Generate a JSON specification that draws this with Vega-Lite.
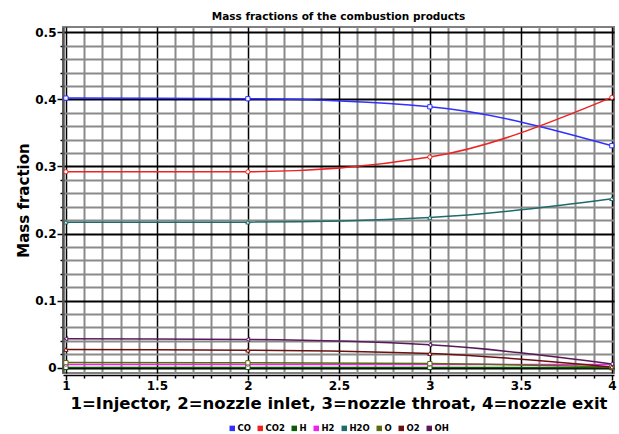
{
  "$schema": "https://vega.github.io/schema/vega-lite/v6.json",
  "autosize": "none",
  "width": 551,
  "height": 346,
  "padding": {"left": 63, "top": 27, "right": 5, "bottom": 61},
  "background": "white",
  "title": {
    "text": "Mass fractions of the combustion products",
    "font": "DejaVu Sans",
    "fontSize": 10.5,
    "fontWeight": "bold",
    "color": "black",
    "anchor": "middle",
    "offset": 4
  },
  "config": {
    "view": {"stroke": "#808080", "strokeWidth": 2},
    "font": "DejaVu Sans"
  },
  "data": {
    "values": [
      {"x": 1, "species": "CO", "value": 0.402},
      {"x": 2, "species": "CO", "value": 0.401},
      {"x": 3, "species": "CO", "value": 0.389},
      {"x": 4, "species": "CO", "value": 0.331},
      {"x": 1, "species": "CO2", "value": 0.292},
      {"x": 2, "species": "CO2", "value": 0.292},
      {"x": 3, "species": "CO2", "value": 0.314},
      {"x": 4, "species": "CO2", "value": 0.403},
      {"x": 1, "species": "H", "value": 0.0003},
      {"x": 2, "species": "H", "value": 0.0003},
      {"x": 3, "species": "H", "value": 0.0002},
      {"x": 4, "species": "H", "value": 0.0},
      {"x": 1, "species": "H2", "value": 0.0045},
      {"x": 2, "species": "H2", "value": 0.0045},
      {"x": 3, "species": "H2", "value": 0.0046},
      {"x": 4, "species": "H2", "value": 0.0045},
      {"x": 1, "species": "H2O", "value": 0.217},
      {"x": 2, "species": "H2O", "value": 0.217},
      {"x": 3, "species": "H2O", "value": 0.224},
      {"x": 4, "species": "H2O", "value": 0.252},
      {"x": 1, "species": "O", "value": 0.0075},
      {"x": 2, "species": "O", "value": 0.0072},
      {"x": 3, "species": "O", "value": 0.006},
      {"x": 4, "species": "O", "value": 0.001},
      {"x": 1, "species": "O2", "value": 0.027},
      {"x": 2, "species": "O2", "value": 0.026},
      {"x": 3, "species": "O2", "value": 0.021},
      {"x": 4, "species": "O2", "value": 0.001},
      {"x": 1, "species": "OH", "value": 0.043},
      {"x": 2, "species": "OH", "value": 0.042},
      {"x": 3, "species": "OH", "value": 0.034},
      {"x": 4, "species": "OH", "value": 0.0055}
    ]
  },
  "encoding": {
    "x": {
      "field": "x",
      "type": "quantitative",
      "scale": {"domain": [0.984, 4.012], "nice": false, "zero": false},
      "axis": {
        "title": "1=Injector, 2=nozzle inlet, 3=nozzle throat, 4=nozzle exit",
        "titleFont": "DejaVu Sans",
        "titleFontSize": 16.5,
        "titleFontWeight": "bold",
        "titleColor": "black",
        "titlePadding": 4,
        "values": [1, 1.1, 1.2, 1.3, 1.4, 1.5, 1.6, 1.7, 1.8, 1.9, 2, 2.1, 2.2, 2.3, 2.4, 2.5, 2.6, 2.7, 2.8, 2.9, 3, 3.1, 3.2, 3.3, 3.4, 3.5, 3.6, 3.7, 3.8, 3.9, 4],
        "format": "~g",
        "labelExpr": "abs(datum.value*2 - round(datum.value*2)) < 1e-6 ? datum.label : ''",
        "labelFont": "DejaVu Sans",
        "labelFontSize": 12,
        "labelFontWeight": "bold",
        "labelColor": "black",
        "labelPadding": 0,
        "labelFlush": false,
        "offset": 2,
        "domainColor": "black",
        "domainWidth": 1.5,
        "tickColor": "black",
        "tickWidth": 1.5,
        "tickSize": {"condition": {"test": "abs(datum.value*2 - round(datum.value*2)) < 1e-6", "value": 5}, "value": 3},
        "grid": true,
        "gridColor": {"condition": {"test": "abs(datum.value*2 - round(datum.value*2)) < 1e-6", "value": "#000000"}, "value": "#8a8a8a"},
        "gridWidth": {"condition": {"test": "abs(datum.value*2 - round(datum.value*2)) < 1e-6", "value": 1.5}, "value": 2},
        "gridOpacity": 1
      }
    },
    "y": {
      "field": "value",
      "type": "quantitative",
      "scale": {"domain": [-0.008, 0.508], "nice": false, "zero": false},
      "axis": {
        "title": "Mass fraction",
        "titleFont": "DejaVu Sans",
        "titleFontSize": 15,
        "titleFontWeight": "bold",
        "titleColor": "black",
        "titlePadding": 3,
        "values": [0, 0.02, 0.04, 0.06, 0.08, 0.1, 0.12, 0.14, 0.16, 0.18, 0.2, 0.22, 0.24, 0.26, 0.28, 0.3, 0.32, 0.34, 0.36, 0.38, 0.4, 0.42, 0.44, 0.46, 0.48, 0.5],
        "format": "~g",
        "labelExpr": "abs(datum.value*10 - round(datum.value*10)) < 1e-6 ? datum.label : ''",
        "labelFont": "DejaVu Sans",
        "labelFontSize": 12,
        "labelFontWeight": "bold",
        "labelColor": "black",
        "labelPadding": 1,
        "labelFlush": false,
        "domainColor": "#555555",
        "domainWidth": 2.5,
        "tickColor": "black",
        "tickWidth": 1.5,
        "tickSize": {"condition": {"test": "abs(datum.value*10 - round(datum.value*10)) < 1e-6", "value": 6}, "value": 3},
        "grid": true,
        "gridColor": {"condition": {"test": "abs(datum.value*10 - round(datum.value*10)) < 1e-6", "value": "#000000"}, "value": "#8a8a8a"},
        "gridWidth": 2,
        "gridOpacity": 1
      }
    },
    "color": {
      "field": "species",
      "type": "nominal",
      "sort": ["CO", "CO2", "H", "H2", "H2O", "O", "O2", "OH"],
      "scale": {
        "domain": ["CO", "CO2", "H", "H2", "H2O", "O", "O2", "OH"],
        "range": ["#2f2fff", "#ee2222", "#0a5a0a", "#ee22ee", "#1f6a6a", "#5a6a10", "#6a1010", "#5a1a5a"]
      },
      "legend": {
        "orient": "none",
        "legendX": 165,
        "legendY": 397,
        "direction": "horizontal",
        "columns": 8,
        "title": null,
        "symbolType": "square",
        "symbolSize": 30,
        "symbolStrokeWidth": 0,
        "labelFont": "DejaVu Sans",
        "labelFontSize": 8.5,
        "labelFontWeight": "bold",
        "labelColor": "black",
        "labelOffset": 1,
        "columnPadding": 5,
        "symbolOffset": 0,
        "encode": {
          "symbols": {
            "update": {
              "shape": {"value": "square"},
              "fill": {"scale": "color", "field": "value"},
              "strokeWidth": {"value": 0}
            }
          }
        }
      }
    }
  },
  "resolve": {"legend": {"shape": "independent"}},
  "layer": [
    {
      "mark": {"type": "line", "interpolate": "monotone", "strokeWidth": 1.5}
    },
    {
      "mark": {"type": "point", "filled": false, "fill": "white", "size": 18, "strokeWidth": 1, "opacity": 1},
      "encoding": {
        "shape": {
          "field": "species",
          "type": "nominal",
          "scale": {
            "domain": ["CO", "CO2", "H", "H2", "H2O", "O", "O2", "OH"],
            "range": ["square", "circle", "square", "diamond", "triangle-up", "square", "triangle-up", "triangle-left"]
          },
          "legend": null
        }
      }
    }
  ]
}
